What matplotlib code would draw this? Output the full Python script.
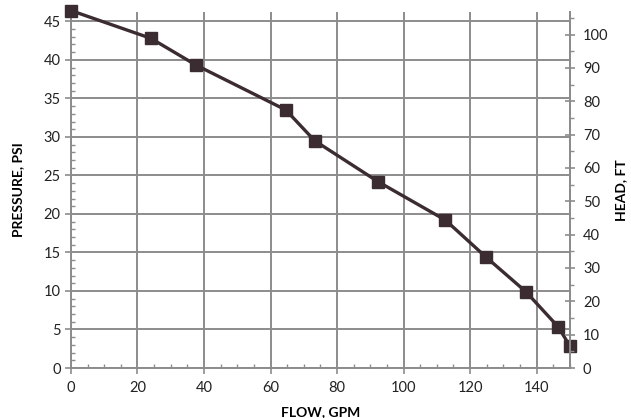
import numpy as np
import matplotlib.pyplot as plt
from matplotlib.ticker import MultipleLocator

flow_gpm = [0, 24, 37.7, 64.6, 73.3, 92.3, 112.6, 124.8, 136.8, 146.6, 150]
pressure_psi = [46.4, 42.8, 39.3, 33.5, 29.5, 24.2, 19.2, 14.4, 9.9, 5.3, 2.85]

PSI_TO_FT = 2.31
Y_MAX = 46.2

plt.rcParams["font.family"] = ["Lato", "DejaVu Sans"]

grid_color = "#8c8c8c"
line_color = "#3b2c31"

fig = plt.figure(figsize=(6.31, 4.18), dpi=100)
ax = fig.add_axes([0.1125, 0.1196, 0.7905, 0.8514])

ax.plot(flow_gpm, pressure_psi, color=line_color, linewidth=2.4,
        marker="s", markersize=8, markerfacecolor=line_color,
        markeredgecolor=line_color, zorder=5, clip_on=False)

ax.set_xlim(0, 150)
ax.set_ylim(0, Y_MAX)
ax.xaxis.set_major_locator(MultipleLocator(20))
ax.xaxis.set_minor_locator(MultipleLocator(5))
ax.yaxis.set_major_locator(MultipleLocator(5))
ax.yaxis.set_minor_locator(MultipleLocator(1))

ax.grid(True, which="major", color=grid_color, linewidth=1.4)
ax.set_axisbelow(True)

for side in ["left", "bottom", "right"]:
    ax.spines[side].set_color(grid_color)
    ax.spines[side].set_linewidth(1.4)
ax.spines["top"].set_visible(False)

ax.tick_params(axis="both", which="major", direction="out", length=4,
               color=grid_color, width=1.2, labelsize=10.5, labelcolor="#222222")
ax.tick_params(axis="x", which="major", pad=5)
ax.tick_params(axis="both", which="minor", direction="in", length=3,
               color=grid_color, width=1)

ax2 = ax.twinx()
ax2.set_ylim(0, Y_MAX * PSI_TO_FT)
ax2.yaxis.set_major_locator(MultipleLocator(10))
ax2.yaxis.set_minor_locator(MultipleLocator(5))
ax2.spines["right"].set_color(grid_color)
ax2.spines["right"].set_linewidth(1.4)
for side in ["left", "bottom", "top"]:
    ax2.spines[side].set_visible(False)
ax2.tick_params(axis="y", which="major", direction="inout", length=7,
                color=grid_color, width=1.2, labelsize=10.5, labelcolor="#222222",
                pad=6)
ax2.tick_params(axis="y", which="minor", direction="out", length=3,
                color=grid_color, width=1)

ax.set_xlabel("FLOW, GPM", fontsize=10, fontweight="bold", labelpad=8)
ax.set_ylabel("PRESSURE, PSI", fontsize=10, fontweight="bold", labelpad=14)
ax2.set_ylabel("HEAD, FT", fontsize=10, fontweight="bold", labelpad=5)

fig.savefig("out.png", dpi=100)
